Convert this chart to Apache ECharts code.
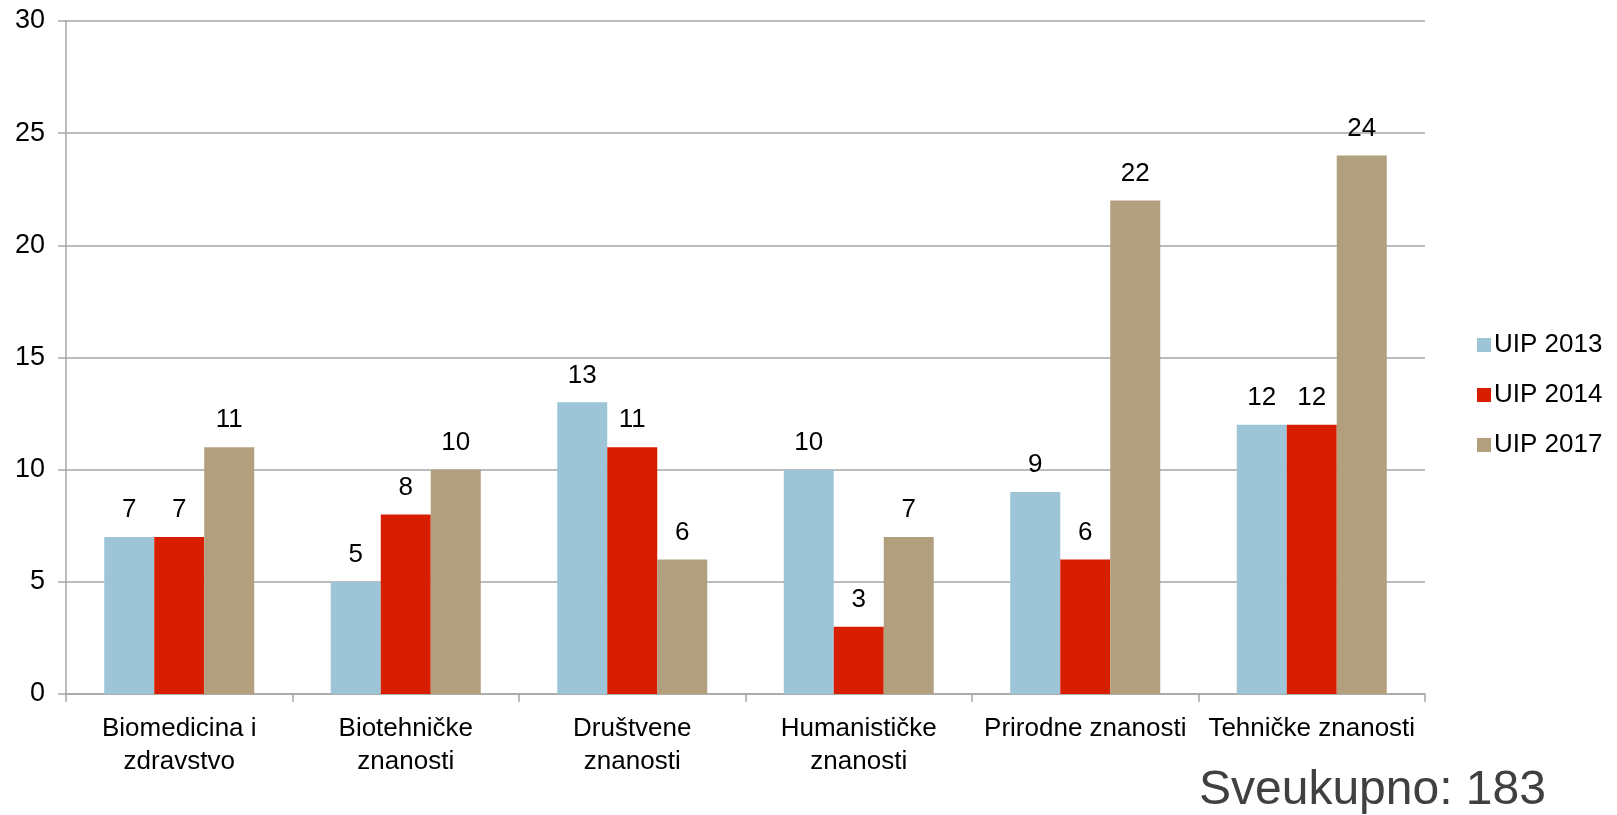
<!DOCTYPE html>
<html><head><meta charset="utf-8">
<script src="https://cdn.jsdelivr.net/npm/echarts@6/dist/echarts.min.js"></script>
<style>html,body{margin:0;padding:0;background:#fff}#c{width:1617px;height:815px}</style>
</head><body><div id="c"></div>
<script>
const categories = ["Biomedicina i\nzdravstvo", "Biotehničke\nznanosti", "Društvene\nznanosti", "Humanističke\nznanosti", "Prirodne znanosti", "Tehničke znanosti"];
const seriesNames = ["UIP 2013", "UIP 2014", "UIP 2017"];
const uip2013 = [7, 5, 13, 10, 9, 12];
const uip2014 = [7, 8, 11, 3, 6, 12];
const uip2017 = [11, 10, 6, 7, 22, 24];
const totalText = "Sveukupno: 183";
const colors = ["#9dc4d7", "#d81e00", "#b29f7e"];

const font = "Liberation Sans, Arial, sans-serif";
const chart = echarts.init(document.getElementById('c'));
const mk = (name, data, color) => ({
  name, type: 'bar', data, barWidth: 50, barGap: '0%',
  itemStyle: { color },
  label: { show: true, position: 'top', distance: 14, fontSize: 26, color: '#000', fontFamily: font }
});
chart.setOption({
  animation: false,
  color: colors,
  grid: { left: 66, right: 192, top: 21, bottom: 121, containLabel: false },
  legend: {
    orient: 'vertical', left: 1472, top: 327, itemWidth: 14, itemHeight: 14, itemGap: 24, icon: 'rect',
    textStyle: { fontSize: 26, color: '#000', fontFamily: font, padding: [0, 0, 0, -2] },
    data: seriesNames
  },
  xAxis: {
    type: 'category', data: categories,
    axisLine: { lineStyle: { color: '#a6a6a6', width: 1.5 } },
    axisTick: { show: true, length: 8, inside: false, lineStyle: { color: '#a6a6a6', width: 1.5 } },
    axisLabel: { fontSize: 26, color: '#000', fontFamily: font, margin: 18, lineHeight: 33, interval: 0 }
  },
  yAxis: {
    type: 'value', min: 0, max: 30, interval: 5,
    axisLine: { show: true, lineStyle: { color: '#a6a6a6', width: 1.5 } },
    axisTick: { show: true, length: 8, lineStyle: { color: '#a6a6a6', width: 1.5 } },
    splitLine: { lineStyle: { color: '#a6a6a6', width: 1.5 } },
    axisLabel: { fontSize: 27, color: '#000', fontFamily: font, margin: 21 }
  },
  graphic: [{
    type: 'text', left: 1199, top: 767,
    style: { text: totalText, fontSize: 48, fill: '#404040', fontFamily: font }
  }],
  series: [mk(seriesNames[0], uip2013, colors[0]), mk(seriesNames[1], uip2014, colors[1]), mk(seriesNames[2], uip2017, colors[2])]
});
</script></body></html>
